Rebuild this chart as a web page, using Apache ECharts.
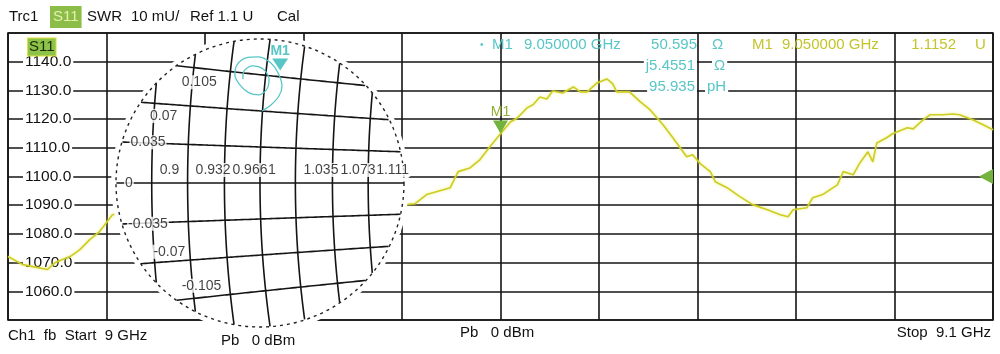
<!DOCTYPE html>
<html>
<head>
<meta charset="utf-8">
<script src="https://cdn.jsdelivr.net/npm/echarts@6/dist/echarts.min.js"></script>
<style>
html,body{margin:0;padding:0;background:#fff}
#chart{width:1000px;height:354px}
</style>
</head>
<body>
<div id="chart"></div>
<script>
// SWR trace (mU) vs frequency (MHz)
var freqMHz = [9000.0, 9001.5, 9002.5, 9004.0, 9004.8, 9006.3, 9007.3, 9008.3, 9009.3, 9010.6,
    9015, 9020, 9026, 9032, 9037,
    9040.3, 9041.3, 9042.5, 9044.2, 9044.9, 9045.7, 9046.9, 9047.9, 9048.9, 9049.9,
    9051.0, 9051.7, 9052.7, 9053.3, 9054.0, 9054.7, 9055.3, 9056.3, 9057.4, 9058.1,
    9058.8, 9059.8, 9060.8, 9061.4, 9061.8, 9063.1, 9064.2, 9065.2, 9066.5, 9067.5,
    9068.9, 9069.5, 9070.3, 9071.3, 9071.8, 9073.0, 9074.3, 9075.6, 9077.1, 9078.4,
    9079.2, 9079.7, 9081.1, 9081.7, 9082.7, 9084.2, 9084.8, 9085.8, 9086.5, 9087.3,
    9087.8, 9088.2, 9089.2, 9089.8, 9091.3, 9091.9, 9092.9, 9093.6, 9094.9, 9095.9,
    9096.6, 9098.0, 9099.0, 9100.0];
var swrMilli = [1072.1, 1069.3, 1068.6, 1067.6, 1070.0, 1072.1, 1074.5, 1078.0, 1080.8, 1086.7,
    1089.5, 1088.5, 1089.8, 1089.0, 1089.6,
    1090.2, 1090.5, 1093.7, 1095.4, 1096.1, 1101.7, 1103.0, 1105.8, 1110.3, 1114.5,
    1119.0, 1120.4, 1123.9, 1125.0, 1127.7, 1127.0, 1129.8, 1129.1, 1131.2, 1129.5,
    1129.5, 1132.6, 1134.0, 1132.3, 1129.5, 1129.5, 1126.0, 1123.2, 1118.0, 1113.5,
    1106.9, 1107.6, 1104.4, 1101.7, 1098.2, 1096.1, 1093.0, 1090.2, 1088.4, 1086.7,
    1086.0, 1088.4, 1089.1, 1092.6, 1093.7, 1097.1, 1101.7, 1100.6, 1104.8, 1108.6,
    1105.1, 1111.7, 1113.5, 1114.9, 1117.0, 1116.6, 1119.7, 1121.5, 1121.5, 1121.8,
    1121.5, 1119.7, 1118.0, 1116.3];

// reflection locus (real / imag of gamma) for the Smith inset
var locusRe = [0.0010, 0.0053, 0.0092, 0.0107, 0.0088, 0.0053, -0.0005, -0.0068, -0.0112, -0.0122,
    -0.0097, -0.0053, -0.0005, 0.0034, 0.0044, 0.0015, -0.0039, -0.0078, -0.0083];
var locusIm = [0.0350, 0.0379, 0.0423, 0.0472, 0.0535, 0.0583, 0.0613, 0.0608, 0.0574, 0.0525,
    0.0476, 0.0438, 0.0428, 0.0457, 0.0506, 0.0554, 0.0569, 0.0544, 0.0506];

// smith grid values
var rLabels = ['0.9', '0.932', '0.966', '1', '1.035', '1.073', '1.111'];
var xLabels = ['0.105', '0.07', '0.035', '0', '-0.035', '-0.07', '-0.105'];

// marker readout
var m1Freq = 9050, m1Swr = 1115.2, m1Re = 50.595, m1Im = 5.4551, m1L = 95.935, z0 = 50;
var refLevel = 1100;

var FONT = '"Liberation Sans", Arial, sans-serif';
var CYAN = '#58c6c6', YEL = '#c4c42a', GREEN = '#74b23e';

function gamma(r, x) {
    var d = (r + 1) * (r + 1) + x * x;
    return [((r - 1) * (r + 1) + x * x) / d, 2 * x / d];
}
var clipR = 0.07;
function inside(p) { return p[0] * p[0] + p[1] * p[1] <= clipR * clipR; }

var series = [];
series.push({
    type: 'line', data: freqMHz.map(function (f, i) { return [f, swrMilli[i]]; }),
    symbol: 'none', z: 2,
    lineStyle: { color: '#cdcd22', width: 1.6, shadowColor: 'rgba(230,230,80,0.7)', shadowBlur: 3 },
    markPoint: {
        silent: true,
        data: [
            { coord: [m1Freq, m1Swr], symbol: 'triangle', symbolRotate: 180, symbolSize: [15, 13], symbolOffset: [0, -6],
              itemStyle: { color: GREEN },
              label: { show: true, formatter: 'M1', position: 'top', distance: 1, color: '#8fae34', fontSize: 14, fontFamily: FONT } },
            { coord: [9100, refLevel], symbol: 'triangle', symbolRotate: 90, symbolSize: [15, 14], symbolOffset: [-7, 0],
              itemStyle: { color: GREEN }, label: { show: false } }
        ]
    }
});
// white backdrop and dashed rim of the inset
series.push({ type: 'scatter', xAxisIndex: 1, yAxisIndex: 1, data: [[0, 0]], symbolSize: 298, silent: true, z: 3,
    itemStyle: { color: '#fff', opacity: 1 } });
series.push({ type: 'scatter', xAxisIndex: 1, yAxisIndex: 1, data: [[0, 0]], symbolSize: 288, silent: true, z: 4,
    itemStyle: { color: 'rgba(0,0,0,0)', opacity: 1, borderColor: '#222', borderWidth: 1.4, borderType: [3, 4] } });

var gl = { color: '#141414', width: 1.6 };
rLabels.forEach(function (s) {
    var r = parseFloat(s), pts = [];
    for (var x = -0.25; x <= 0.25; x += 0.0005) { var p = gamma(r, x); if (inside(p)) pts.push(p); }
    series.push({ type: 'line', xAxisIndex: 1, yAxisIndex: 1, data: pts, symbol: 'none', silent: true, z: 4, lineStyle: gl });
});
xLabels.forEach(function (s) {
    var x = parseFloat(s), pts = [];
    for (var r = 0.7; r <= 1.4; r += 0.0005) { var p = gamma(r, x); if (inside(p)) pts.push(p); }
    series.push({ type: 'line', xAxisIndex: 1, yAxisIndex: 1, data: pts, symbol: 'none', silent: true, z: 4, lineStyle: gl });
});

// inset labels
var xLabelAt = [0.92, 0.895, 0.88, 0.876, 0.878, 0.898, 0.92];
var xLabelOff = [[0, 16], [0, 13], [0, 0], [0, 0], [0, 0], [0, -11], [0, -14]];
var lblStyle = { show: true, position: 'right', distance: 0, color: '#111', fontSize: 14, fontFamily: FONT,
    backgroundColor: '#fff', padding: [0, 1] };
series.push({ type: 'scatter', xAxisIndex: 1, yAxisIndex: 1, symbolSize: 0, silent: true, z: 6,
    data: xLabels.map(function (s, i) {
        return { value: gamma(xLabelAt[i], parseFloat(s)), label: Object.assign({}, lblStyle, { formatter: s, offset: xLabelOff[i] }) };
    }).concat(rLabels.map(function (s) {
        return { value: gamma(parseFloat(s), 0), label: Object.assign({}, lblStyle, { formatter: s, offset: [7, -13] }) };
    }))
});

// locus and inset marker
series.push({ type: 'line', xAxisIndex: 1, yAxisIndex: 1, symbol: 'none', silent: true, z: 5, smooth: 0.3,
    data: locusRe.map(function (v, i) { return [v, locusIm[i]]; }),
    lineStyle: { color: CYAN, width: 1.3 } });
series.push({ type: 'scatter', xAxisIndex: 1, yAxisIndex: 1, silent: true, z: 6,
    data: [gamma(m1Re / z0, m1Im / z0)], symbol: 'triangle', symbolRotate: 180, symbolSize: [16, 12], symbolOffset: [2, -8],
    itemStyle: { color: CYAN, opacity: 1 },
    label: { show: true, formatter: 'M1', position: 'top', distance: 0, color: CYAN, fontSize: 14, fontWeight: 'bold', fontFamily: FONT } });

function txt(x, y, s, color, extra) {
    var st = { text: s, x: x, y: y, fill: color || '#111', font: '15px ' + FONT, verticalAlign: 'middle', align: 'left' };
    for (var k in extra) st[k] = extra[k];
    return { type: 'text', z: 10, silent: true, style: st };
}
var wb = { backgroundColor: '#fff', padding: [0, 2] };

var chart = echarts.init(document.getElementById('chart'));
chart.setOption({
    animation: false,
    backgroundColor: '#fff',
    grid: [
        { left: 8, top: 33, width: 985, height: 287, show: true, borderColor: '#141414', borderWidth: 1.6, backgroundColor: 'transparent' },
        { left: 116, top: 39, width: 288, height: 288 }
    ],
    xAxis: [
        { type: 'value', min: 9000, max: 9100, interval: 10, axisLabel: { show: false }, axisTick: { show: false },
          axisLine: { show: false }, splitLine: { lineStyle: { color: '#141414', width: 1.6 } } },
        { type: 'value', gridIndex: 1, min: -0.07, max: 0.07, show: false }
    ],
    yAxis: [
        { type: 'value', min: 1050, max: 1150, interval: 10, axisTick: { show: false }, axisLine: { show: false },
          splitLine: { lineStyle: { color: '#141414', width: 1.6 } },
          axisLabel: { inside: true, margin: 15, showMinLabel: false, showMaxLabel: false, color: '#111',
            fontSize: 15.5, fontFamily: FONT, backgroundColor: '#fff', padding: [1, 2],
            formatter: function (v) { return v.toFixed(1); } } },
        { type: 'value', gridIndex: 1, min: -0.07, max: 0.07, show: false }
    ],
    graphic: [
        txt(9, 17, 'Trc1'),
        txt(50, 17, 'S11', '#e4f0b0', { backgroundColor: '#8cbd48', padding: [4, 3, 3, 3] }),
        txt(87, 17, 'SWR'),
        txt(131, 17, '10 mU/'),
        txt(190, 17, 'Ref 1.1 U'),
        txt(277, 17, 'Cal'),
        txt(28, 47, 'S11', '#1c2a08', { backgroundColor: '#8ec34a', borderColor: '#e2e040', borderWidth: 1, padding: [1, 1] }),
        txt(480, 45, '\u2022', CYAN, { font: '10px ' + FONT }),
        txt(492, 45, 'M1', CYAN),
        txt(524, 45, (m1Freq / 1000).toFixed(6) + ' GHz', CYAN),
        txt(697, 45, m1Re.toFixed(3), CYAN, { align: 'right' }),
        txt(712, 45, '\u03a9', CYAN),
        txt(697, 66, 'j' + m1Im.toFixed(4), CYAN, { align: 'right', backgroundColor: '#fff', padding: [0, 2] }),
        txt(712, 66, '\u03a9', CYAN, wb),
        txt(697, 87, m1L.toFixed(3), CYAN, { align: 'right', backgroundColor: '#fff', padding: [0, 2] }),
        txt(705, 87, 'pH', CYAN, wb),
        txt(752, 45, 'M1', YEL),
        txt(782, 45, (m1Freq / 1000).toFixed(6) + ' GHz', YEL),
        txt(956, 45, (m1Swr / 1000).toFixed(4), YEL, { align: 'right' }),
        txt(975, 45, 'U', YEL),
        txt(8, 336, 'Ch1  fb  Start  9 GHz'),
        txt(221, 341, 'Pb   0 dBm'),
        txt(460, 333, 'Pb   0 dBm'),
        txt(991, 333, 'Stop  9.1 GHz', '#111', { align: 'right' })
    ],
    series: series
});
</script>
</body>
</html>
